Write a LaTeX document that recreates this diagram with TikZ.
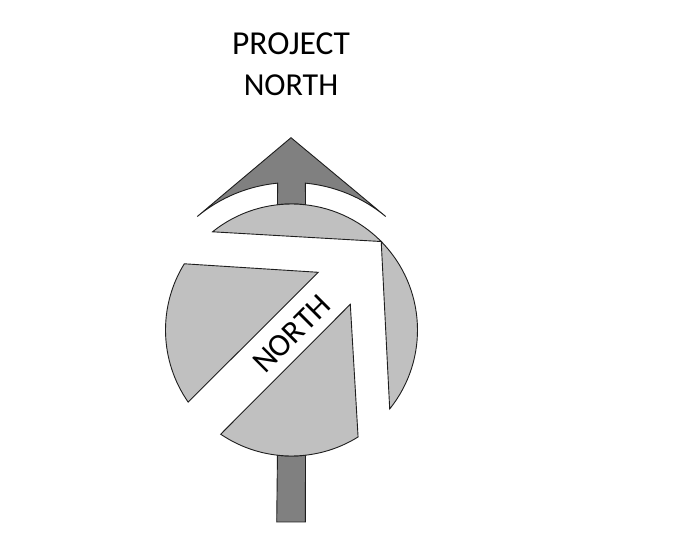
\documentclass[tikz,border=0pt]{standalone}
\usepackage{fontspec}
\setmainfont{Carlito}
\usepackage{xcolor}
\definecolor{shaftgray}{RGB}{128,128,128}
\definecolor{dialgray}{RGB}{192,192,192}
\definecolor{outline}{RGB}{30,30,30}
\tikzset{
  arrowpart/.style={draw=outline, line width=0.9pt, fill=shaftgray, line join=miter},
  dialpiece/.style={draw=outline, line width=0.9pt, fill=dialgray, line join=miter},
  lbl/.style={font=\fontsize{32}{41}\selectfont, align=center, inner sep=0pt, text=black},
}

\begin{document}
\begin{tikzpicture}[x=1pt,y=1pt]
  \useasboundingbox (0,0) rectangle (695,556);
  \coordinate (center) at (291.5,226);
  \coordinate (tip) at (291,418.3);
  % arrow behind the dial
  \draw[arrowpart] (tip) -- ([shift={(50.3:147.5pt)}]center)
    arc[start angle=50.3, end angle=84.6, radius=147.5pt]
    -- ([shift={(83.6:126pt)}]center)
    arc[start angle=83.6, end angle=96.4, radius=126pt]
    -- ([shift={(95.4:147.5pt)}]center)
    arc[start angle=95.4, end angle=129.7, radius=147.5pt]
    -- cycle;
  \draw[arrowpart] (center) ++(-96.4:126pt)
    arc[start angle=-96.4, end angle=-83.6, radius=126pt]
    -- (305.3,34) -- (276.7,34) -- cycle;
  % dial pieces
  \draw[dialpiece] (center) ++(128.8:126pt)
    arc[start angle=128.8, end angle=44.6, radius=126pt] -- cycle;
  \draw[dialpiece] (center) ++(44.6:126pt)
    arc[start angle=44.6, end angle=-38.8, radius=126pt] -- cycle;
  \draw[dialpiece] (center) ++(148.3:126pt)
    arc[start angle=148.3, end angle=214.9, radius=126pt] -- (318.3,283.7) -- cycle;
  \draw[dialpiece] (center) ++(-124.2:126pt)
    arc[start angle=-124.2, end angle=-58.1, radius=126pt] -- (350.3,251.7) -- cycle;
  \node[lbl] (project) at (291,492) {{\fontsize{33.5}{41}\selectfont PROJECT}\\NORTH};
  \node[lbl, rotate=45] (north) at (291.5,222) {NORTH};
\end{tikzpicture}
\end{document}
